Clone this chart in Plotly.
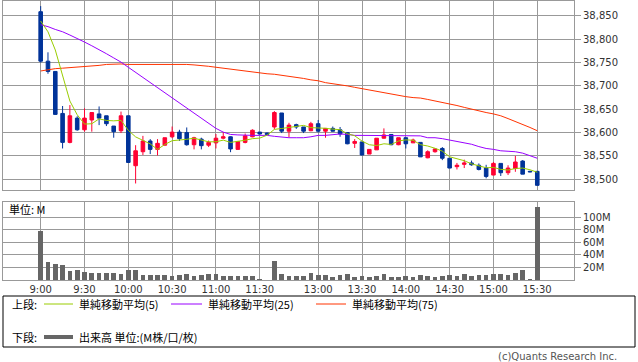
import plotly.graph_objects as go

W, H = 638, 362

# ---------------- data ----------------
slots = list(range(69))  # 5-min slots; slot 31 is the lunch gap
tick_slots = [0, 6, 12, 18, 24, 30, 38, 44, 50, 56, 62, 68]
tick_text = ["9:00", "9:30", "10:00", "10:30", "11:00", "11:30",
             "13:00", "13:30", "14:00", "14:30", "15:00", "15:30"]

opens = [38859, 38753, 38731, 38641, 38579, 38631, 38606, 38627, 38640, 38636,
         38614, 38604, 38636, 38529, 38559, 38582, 38564, 38573, 38591, 38601,
         38600, 38574, 38586, 38573, 38578, 38588, 38591, 38564, 38579, 38591,
         38601, 38599, 38612, 38642, 38603, 38617, 38612, 38604, 38619, 38603,
         38609, 38606, 38600, 38577, 38580, 38554, 38563, 38588, 38596, 38574,
         38589, 38578, 38579, 38546, 38559, 38566, 38545, 38527, 38532, 38535,
         38530, 38524, 38509, 38534, 38514, 38523, 38539, 38517, 38517]
highs = [38871, 38772, 38731, 38657, 38659, 38635, 38652, 38643, 38656, 38636,
         38614, 38645, 38636, 38573, 38593, 38586, 38586, 38589, 38613, 38606,
         38611, 38591, 38589, 38583, 38597, 38601, 38592, 38581, 38598, 38607,
         38601, 38600, 38646, 38642, 38621, 38619, 38612, 38623, 38627, 38609,
         38613, 38612, 38600, 38586, 38580, 38564, 38588, 38609, 38596, 38589,
         38590, 38587, 38579, 38562, 38566, 38569, 38545, 38535, 38542, 38540,
         38534, 38531, 38537, 38534, 38530, 38550, 38541, 38518, 38517]
lows = [38750, 38726, 38638, 38566, 38577, 38604, 38602, 38602, 38616, 38614,
        38589, 38599, 38535, 38491, 38552, 38554, 38551, 38572, 38588, 38582,
        38572, 38564, 38564, 38569, 38566, 38586, 38558, 38564, 38577, 38590,
        38596, 38596, 38607, 38599, 38590, 38608, 38599, 38603, 38600, 38589,
        38602, 38591, 38575, 38567, 38551, 38554, 38563, 38587, 38573, 38573,
        38566, 38578, 38548, 38545, 38557, 38541, 38524, 38521, 38524, 38529,
        38519, 38502, 38509, 38507, 38509, 38516, 38511, 38515, 38487]
closes = [38753, 38731, 38639, 38579, 38636, 38606, 38631, 38643, 38631, 38619,
          38602, 38636, 38536, 38561, 38582, 38564, 38577, 38589, 38601, 38587,
          38574, 38589, 38572, 38579, 38588, 38591, 38565, 38581, 38593, 38605,
          38597, 38596, 38643, 38603, 38616, 38612, 38603, 38619, 38603, 38609,
          38603, 38597, 38576, 38581, 38552, 38564, 38588, 38595, 38574, 38589,
          38576, 38584, 38548, 38559, 38565, 38545, 38524, 38530, 38535, 38531,
          38521, 38506, 38534, 38514, 38524, 38537, 38511, 38516, 38487]

# first four MA(5) points depend on the previous session ->
ma5_head = [38839, 38816, 38777, 38724]
ma25 = [38831, 38827, 38821, 38816, 38809, 38802, 38794, 38786, 38778, 38769,
        38760, 38751, 38740, 38729, 38718, 38706, 38695, 38684, 38673, 38662,
        38651, 38641, 38630, 38619, 38609, 38601, 38596, 38595, 38594, 38594,
        38594, 38594, 38592, 38590, 38589, 38589, 38589, 38591, 38594, 38594,
        38596, 38597, 38596, 38594, 38594, 38594, 38594, 38594, 38594, 38594,
        38594, 38594, 38593, 38589, 38589, 38587, 38584, 38581, 38579, 38575,
        38570, 38566, 38564, 38561, 38560, 38559, 38556, 38551, 38545]
ma75 = [38732, 38735, 38737, 38738, 38739, 38740, 38741, 38743, 38744, 38746,
        38747, 38747, 38746, 38746, 38746, 38746, 38747, 38747, 38747, 38747,
        38746, 38745, 38744, 38742, 38740, 38738, 38735, 38733, 38732, 38730,
        38728, 38726, 38725, 38723, 38720, 38718, 38716, 38713, 38711, 38707,
        38705, 38702, 38700, 38697, 38694, 38691, 38688, 38685, 38682, 38680,
        38677, 38675, 38674, 38671, 38668, 38665, 38661, 38658, 38654, 38650,
        38647, 38643, 38640, 38636, 38630, 38624, 38618, 38611, 38604]

volume_m = [77.4, 28.4, 25.3, 23.7, 14.2, 15.8, 12.6, 11, 11, 11,
            11, 9.5, 15.8, 15.8, 7.9, 7.9, 7.9, 7.9, 6.3, 7.9,
            9.5, 6.8, 7.9, 9.5, 9.5, 6.8, 6.8, 6.8, 6.8, 6.8,
            1.6, 0, 30, 9.5, 6.8, 6.8, 6.8, 11, 7.9, 7.9,
            5.3, 7.9, 9.5, 5.3, 6.8, 5.3, 6.8, 9.5, 5.3, 5.3,
            6.8, 5.3, 7.9, 6.8, 5.3, 6.8, 7.9, 6.8, 9.5, 6.8,
            7.9, 7.9, 9.5, 9.5, 7.9, 11, 15.8, 0.5, 116]

price_ticks = [38500, 38550, 38600, 38650, 38700, 38750, 38800, 38850]
vol_ticks = [20, 40, 60, 80, 100]
vol_tick_text = ["20M", "40M", "60M", "80M", "100M"]

# MA(5) from closes
ma5 = ma5_head + [sum(closes[i - 4:i + 1]) / 5 for i in range(4, len(closes))]

# ---------------- styling ----------------
RED = "#ff0033"
BLUE = "#003399"
C_MA5 = "#99cc00"
C_MA25 = "#9900ff"
C_MA75 = "#ff3300"
GRID = "#999999"
TXT = "#333333"
NUM_FONT = "DejaVu Sans, Noto Sans CJK JP"
JP_FONT = "Noto Sans CJK JP, DejaVu Sans"


def px(x):
    return x / W


def py(y):
    return 1 - y / H


fig = go.Figure()
fig.add_trace(go.Candlestick(
    x=slots, open=opens, high=highs, low=lows, close=closes,
    increasing=dict(line=dict(color=RED, width=1), fillcolor=RED),
    decreasing=dict(line=dict(color=BLUE, width=1), fillcolor=BLUE),
    whiskerwidth=0, xaxis="x", yaxis="y", showlegend=False))
fig.add_trace(go.Scatter(x=slots, y=ma75, mode="lines", line=dict(color=C_MA75, width=1),
                         xaxis="x", yaxis="y", showlegend=False))
fig.add_trace(go.Scatter(x=slots, y=ma25, mode="lines", line=dict(color=C_MA25, width=1),
                         xaxis="x", yaxis="y", showlegend=False))
fig.add_trace(go.Scatter(x=slots, y=ma5, mode="lines", line=dict(color=C_MA5, width=1),
                         xaxis="x", yaxis="y", showlegend=False))
fig.add_trace(go.Bar(x=slots, y=volume_m, width=0.64, marker=dict(color="#666666", line=dict(width=0)),
                     xaxis="x2", yaxis="y2", showlegend=False))

xr = [-5.16, 73.03]
xdom = [px(3), px(574)]
common_x = dict(domain=xdom, range=xr, tickmode="array", tickvals=tick_slots,
                showgrid=True, gridcolor=GRID, gridwidth=1, zeroline=False,
                showline=True, mirror=True, linecolor=GRID, linewidth=1, fixedrange=True)

fig.update_layout(
    width=W, height=H, margin=dict(l=0, r=0, t=0, b=0),
    paper_bgcolor="white", plot_bgcolor="white",
    font=dict(family=NUM_FONT, size=10, color=TXT),
    xaxis=dict(**common_x, anchor="y", showticklabels=False, ticks="",
               rangeslider=dict(visible=False)),
    yaxis=dict(domain=[py(190), py(0.5)], range=[38477, 38883], side="right",
               tickmode="array", tickvals=price_ticks, tickformat=",d",
               ticks="outside", ticklen=6, tickcolor=GRID,
               showgrid=True, gridcolor=GRID, zeroline=False,
               showline=True, mirror=True, linecolor=GRID, linewidth=1,
               tickfont=dict(size=10, color=TXT), anchor="x"),
    xaxis2=dict(**common_x, anchor="y2", ticktext=tick_text, ticks="",
                tickfont=dict(size=10, color=TXT)),
    yaxis2=dict(domain=[py(280), py(202)], range=[0, 124.3], side="right",
                tickmode="array", tickvals=vol_ticks, ticktext=vol_tick_text,
                ticks="outside", ticklen=6, tickcolor=GRID,
                showgrid=True, gridcolor=GRID, zeroline=False,
                showline=True, mirror=True, linecolor=GRID, linewidth=1,
                tickfont=dict(size=10, color=TXT), anchor="x2"),
    bargap=0,
    hovermode=False,
)

annotations = [
    dict(text="単位: M", x=px(7), y=py(209), xref="paper", yref="paper",
         xanchor="left", yanchor="middle", showarrow=False,
         font=dict(family=JP_FONT, size=11, color="#000000")),
    dict(text="上段:", x=px(10), y=py(304), xref="paper", yref="paper",
         xanchor="left", yanchor="middle", showarrow=False,
         font=dict(family=JP_FONT, size=11, color="#000000")),
    dict(text="単純移動平均(5)", x=px(77), y=py(304), xref="paper", yref="paper",
         xanchor="left", yanchor="middle", showarrow=False,
         font=dict(family=JP_FONT, size=11, color="#000000")),
    dict(text="単純移動平均(25)", x=px(206), y=py(304), xref="paper", yref="paper",
         xanchor="left", yanchor="middle", showarrow=False,
         font=dict(family=JP_FONT, size=11, color="#000000")),
    dict(text="単純移動平均(75)", x=px(350), y=py(304), xref="paper", yref="paper",
         xanchor="left", yanchor="middle", showarrow=False,
         font=dict(family=JP_FONT, size=11, color="#000000")),
    dict(text="下段:", x=px(10), y=py(337), xref="paper", yref="paper",
         xanchor="left", yanchor="middle", showarrow=False,
         font=dict(family=JP_FONT, size=11, color="#000000")),
    dict(text="出来高 単位:(M株/口/枚)", x=px(77), y=py(337), xref="paper", yref="paper",
         xanchor="left", yanchor="middle", showarrow=False,
         font=dict(family=JP_FONT, size=11, color="#000000")),
    dict(text="(c)Quants Research Inc.", x=px(619), y=py(356), xref="paper", yref="paper",
         xanchor="right", yanchor="middle", showarrow=False,
         font=dict(family=NUM_FONT, size=10, color="#555555")),
]

shapes = [
    dict(type="rect", xref="paper", yref="paper", x0=px(3), x1=px(635), y0=py(347), y1=py(296),
         line=dict(color="#000000", width=1), fillcolor="rgba(0,0,0,0)"),
    dict(type="line", xref="paper", yref="paper", x0=px(44), x1=px(73), y0=py(304), y1=py(304),
         line=dict(color=C_MA5, width=1)),
    dict(type="line", xref="paper", yref="paper", x0=px(171), x1=px(202), y0=py(304), y1=py(304),
         line=dict(color=C_MA25, width=1)),
    dict(type="line", xref="paper", yref="paper", x0=px(316), x1=px(346), y0=py(304), y1=py(304),
         line=dict(color=C_MA75, width=1)),
    dict(type="line", xref="paper", yref="paper", x0=px(44), x1=px(73), y0=py(337), y1=py(337),
         line=dict(color="#666666", width=4)),
]

fig.update_layout(annotations=annotations, shapes=shapes)
fig.write_html(
    "out.html",
    config={"displayModeBar": False},
    post_script="document.body.style.margin='0';document.body.style.overflow='hidden';",
)
